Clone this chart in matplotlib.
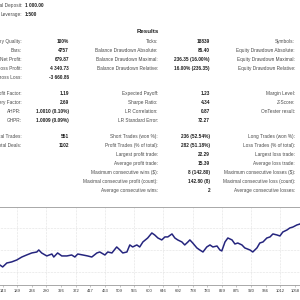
import matplotlib
matplotlib.use("Agg")
import matplotlib.pyplot as plt

plt.rcParams['font.family'] = ['Liberation Sans', 'DejaVu Sans']

# balance curve (deal number -> balance)
deals = [0, 40, 80, 120, 134, 143, 156, 171, 187, 203, 218, 234, 250, 256, 265,
         281, 297, 303, 315, 328, 344, 359, 369, 378, 394, 409, 422, 438, 447,
         463, 472, 485, 500, 510, 519, 532, 541, 550, 563, 572, 582, 597, 610,
         619, 629, 641, 651, 660, 673, 682, 691, 704, 713, 723, 729, 738, 751,
         760, 770, 782, 792, 801, 814, 823, 829, 839, 848, 861, 870, 879, 892,
         901, 917, 926, 939, 948, 958, 970, 980, 989, 1002, 1011, 1020, 1033,
         1042, 1052, 1064, 1074, 1088, 1102]
balance = [1000, 1030, 1060, 1070, 1080, 1057, 1102, 1114, 1136, 1170, 1193, 1216,
           1227, 1250, 1216, 1182, 1204, 1170, 1216, 1182, 1182, 1193, 1170, 1204,
           1193, 1182, 1170, 1216, 1227, 1193, 1227, 1216, 1284, 1250, 1216, 1227,
           1307, 1284, 1307, 1284, 1341, 1386, 1443, 1420, 1386, 1364, 1398, 1398,
           1432, 1386, 1364, 1341, 1307, 1341, 1364, 1329, 1273, 1250, 1227, 1284,
           1307, 1284, 1295, 1250, 1239, 1341, 1386, 1364, 1318, 1329, 1307, 1273,
           1250, 1227, 1273, 1329, 1341, 1386, 1398, 1432, 1420, 1409, 1454, 1477,
           1500, 1511, 1534, 1545, 1610, 1680]

tick_vals = [143, 189, 234, 280, 326, 372, 417, 463, 509, 555, 600, 646, 692,
             738, 783, 829, 875, 920, 966, 1012, 1058]
grid_x = tick_vals[1::2]
grid_y = [1000, 1250, 1500]

head_labels = ["Initial Deposit:", "Leverage:"]
head_values = ["1 000.00", "1:500"]

left_labels = ["History Quality:", "Bars:", "Net Profit:", "Gross Profit:", "Gross Loss:",
               "Profit Factor:", "Recovery Factor:", "AHPR:", "GHPR:",
               "Total Trades:", "Total Deals:"]
left_values = ["100%", "4757", "679.87", "4 340.73", "-3 660.86",
               "1.19", "2.69", "1.0010 (0.10%)", "1.0009 (0.09%)",
               "551", "1102"]
left_rows = [0, 1, 2, 3, 4, 6, 7, 8, 9, 11, 12]

mid_labels = ["Ticks:", "Balance Drawdown Absolute:", "Balance Drawdown Maximal:",
              "Balance Drawdown Relative:",
              "Expected Payoff:", "Sharpe Ratio:", "LR Correlation:", "LR Standard Error:",
              "Short Trades (won %):", "Profit Trades (% of total):",
              "Largest profit trade:", "Average profit trade:",
              "Maximum consecutive wins ($):", "Maximal consecutive profit (count):",
              "Average consecutive wins:"]
mid_values = ["18839", "86.40", "236.35 (16.00%)", "16.00% (236.35)",
              "1.23", "4.34", "0.87", "72.27",
              "236 (52.54%)", "282 (51.18%)", "22.29", "15.39",
              "8 (142.80)", "142.80 (8)", "2"]
mid_rows = [0, 1, 2, 3, 6, 7, 8, 9, 11, 12, 13, 14, 15, 16, 17]

right_labels = ["Symbols:", "Equity Drawdown Absolute:", "Equity Drawdown Maximal:",
                "Equity Drawdown Relative:",
                "Margin Level:", "Z-Score:", "OnTester result:",
                "Long Trades (won %):", "Loss Trades (% of total):",
                "Largest loss trade:", "Average loss trade:",
                "Maximum consecutive losses ($):", "Maximal consecutive loss (count):",
                "Average consecutive losses:"]
right_rows = [0, 1, 2, 3, 6, 7, 8, 11, 12, 13, 14, 15, 16, 17]

fig = plt.figure(figsize=(3, 3), dpi=100)
fig.patch.set_facecolor("white")

W = H = 300.0
lab_c = "#4a4a4a"
val_c = "#1e1e1e"
fs = 3.4


def put(x, y, s, ha, bold=False, color=lab_c, size=fs):
    fig.text(x / W, 1 - y / H, s, ha=ha, va="center", fontsize=size,
             color=color, fontweight="bold" if bold else "normal")


def row_y(r):
    # rows of 9 px, with a gap after each block
    base = 41.7 + 9.0 * r
    if r >= 5:
        base -= 2.4
    if r >= 10:
        base -= 2.0
    return base


for i, (lab, val) in enumerate(zip(head_labels, head_values)):
    put(22, 5.3 + 9 * i, lab, "right")
    put(25, 5.3 + 9 * i, val, "left", bold=True, color=val_c)

put(148, 31.5, "Results", "center", bold=True, color="#222222", size=4.4)

for lab, val, r in zip(left_labels, left_values, left_rows):
    put(21.5, row_y(r), lab, "right")
    put(69, row_y(r), val, "right", bold=True, color=val_c)

for lab, val, r in zip(mid_labels, mid_values, mid_rows):
    put(158, row_y(r), lab, "right")
    put(210, row_y(r), val, "right", bold=True, color=val_c)

for lab, r in zip(right_labels, right_rows):
    put(295, row_y(r), lab, "right")

# balance chart
ax = fig.add_axes([-43 / W, 1 - 285 / H, 352 / W, 78 / H])
ax.plot(deals, balance, color="#25257e", lw=1.1)
ax.set_xlim(0, 1102)
ax.set_ylim(852, 1738)
ax.set_xticks(tick_vals)
ax.set_xticklabels([str(v) for v in tick_vals])
ax.tick_params(axis="x", labelsize=3.0, labelcolor="#333333", length=1.5,
               width=0.4, color="#999999", pad=1.2)
ax.set_yticks([])
for gx in grid_x:
    ax.axvline(gx, color="#c8c8c8", lw=0.4, ls=":", zorder=0)
for gy in grid_y:
    ax.axhline(gy, color="#c8c8c8", lw=0.4, ls=":", zorder=0)
for sp in ax.spines.values():
    sp.set_color("#9a9a9a")
    sp.set_linewidth(0.6)

fig.savefig("out.png", dpi=100, facecolor="white")
